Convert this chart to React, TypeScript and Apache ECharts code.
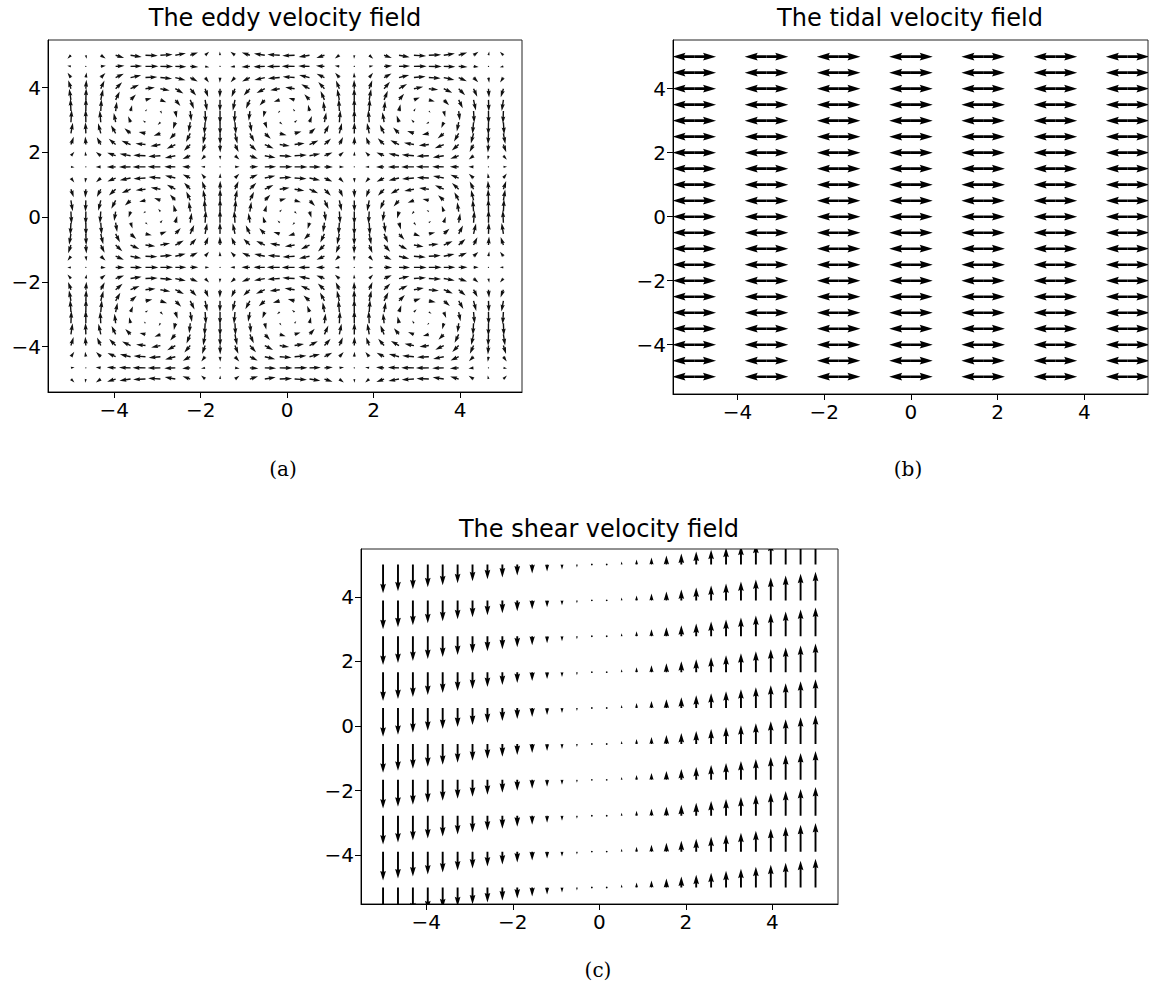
import React, { useEffect, useRef } from "react";
import * as echarts from "echarts";

// ---------- data ----------
// eddy field: 30 x 30 grid from -5 to 5
const eddyGrid = [
  -5.0, -4.655, -4.31, -3.966, -3.621, -3.276, -2.931, -2.586, -2.241, -1.897,
  -1.552, -1.207, -0.862, -0.517, -0.172, 0.172, 0.517, 0.862, 1.207, 1.552,
  1.897, 2.241, 2.586, 2.931, 3.276, 3.621, 3.966, 4.31, 4.655, 5.0,
];
// column / row amplitude factors of the eddy cells (read per grid line)
const eddyCos = [
  0.28, -0.06, -0.39, -0.68, -0.89, -0.99, -0.98, -0.85, -0.62, -0.32,
  0.02, 0.36, 0.65, 0.87, 0.99, 0.99, 0.87, 0.65, 0.36, 0.02,
  -0.32, -0.62, -0.85, -0.98, -0.99, -0.89, -0.68, -0.39, -0.06, 0.28,
];
const eddySin = [
  0.96, 1.0, 0.92, 0.73, 0.46, 0.13, -0.21, -0.53, -0.78, -0.95,
  -1.0, -0.93, -0.76, -0.49, -0.17, 0.17, 0.49, 0.76, 0.93, 1.0,
  0.95, 0.78, 0.53, 0.21, -0.13, -0.46, -0.73, -0.92, -1.0, -0.96,
];

// tidal field: 7 columns x 21 rows, arrows both ways
const tidalXs = [-5, -3.333, -1.667, 0, 1.667, 3.333, 5];
const tidalYs = [
  -5, -4.5, -4, -3.5, -3, -2.5, -2, -1.5, -1, -0.5, 0, 0.5, 1, 1.5, 2, 2.5, 3,
  3.5, 4, 4.5, 5,
];
const tidalU = [1, -1];

// shear field: 30 columns x 10 rows, vertical velocity per column
const shearXs = [
  -5.0, -4.655, -4.31, -3.966, -3.621, -3.276, -2.931, -2.586, -2.241, -1.897,
  -1.552, -1.207, -0.862, -0.517, -0.172, 0.172, 0.517, 0.862, 1.207, 1.552,
  1.897, 2.241, 2.586, 2.931, 3.276, 3.621, 3.966, 4.31, 4.655, 5.0,
];
const shearYs = [-5, -3.889, -2.778, -1.667, -0.556, 0.556, 1.667, 2.778, 3.889, 5];
const shearV = [
  -5.0, -4.655, -4.31, -3.966, -3.621, -3.276, -2.931, -2.586, -2.241, -1.897,
  -1.552, -1.207, -0.862, -0.517, -0.172, 0.172, 0.517, 0.862, 1.207, 1.552,
  1.897, 2.241, 2.586, 2.931, 3.276, 3.621, 3.966, 4.31, 4.655, 5.0,
];

const tickValues = [-4, -2, 0, 2, 4];
const titles = [
  "The eddy velocity field",
  "The tidal velocity field",
  "The shear velocity field",
];
const captions = ["(a)", "(b)", "(c)"];

// ---------- helpers ----------
function arrowPoints(px: number, py: number, dx: number, dy: number, w: number) {
  const Lpx = Math.hypot(dx, dy);
  const c = Lpx > 0 ? dx / Lpx : 1;
  const s = Lpx > 0 ? dy / Lpx : 0;
  const L = Lpx / w;
  let pts: number[][];
  if (L < 1) {
    pts = [];
    for (let k = 0; k < 6; k++) {
      const th = (k * Math.PI) / 3;
      pts.push([Math.cos(th) * 0.5, Math.sin(th) * 0.5]);
    }
  } else if (L < 5) {
    const f = L / 5;
    pts = [
      [0, 0.5], [0.5, 0.5], [0, 1.5], [5, 0], [0, -1.5], [0.5, -0.5], [0, -0.5],
    ].map(([a, b]) => [a * f, b * f]);
  } else {
    pts = [
      [0, 0.5], [L - 4.5, 0.5], [L - 5, 1.5], [L, 0], [L - 5, -1.5], [L - 4.5, -0.5], [0, -0.5],
    ];
  }
  return pts.map(([a, b]) => [px + (a * c - b * s) * w, py + (a * s + b * c) * w]);
}

const fmt = (v: number) => (v < 0 ? "\u2212" + Math.abs(v) : String(v));

function xAxisCfg(idx: number, min: number, max: number) {
  return {
    type: "value",
    gridIndex: idx,
    min,
    max,
    splitLine: { show: false },
    axisLine: { show: true, onZero: false, lineStyle: { color: "#000", width: 1 } },
    axisTick: {
      show: true,
      length: 6,
      customValues: tickValues,
      lineStyle: { color: "#000", width: 1 },
    },
    axisLabel: {
      customValues: tickValues,
      formatter: fmt,
      color: "#000",
      fontSize: 20,
      fontFamily: "DejaVu Sans",
      margin: 8,
    },
  };
}
function yAxisCfg(idx: number, min: number, max: number) {
  return {
    type: "value",
    gridIndex: idx,
    min,
    max,
    splitLine: { show: false },
    axisLine: { show: true, onZero: false, lineStyle: { color: "#000", width: 1 } },
    axisTick: {
      show: true,
      length: 6,
      customValues: tickValues,
      lineStyle: { color: "#000", width: 1 },
    },
    axisLabel: {
      customValues: tickValues,
      formatter: fmt,
      color: "#000",
      fontSize: 20,
      fontFamily: "DejaVu Sans",
      margin: 7,
    },
  };
}

export default function App() {
  const ref = useRef<HTMLDivElement>(null);
  useEffect(() => {
    if (!ref.current) return;
    const chart = echarts.init(ref.current, null, { renderer: "svg" });

    const eddyData: number[][] = [];
    eddyGrid.forEach((x, i) => {
      eddyGrid.forEach((y, j) => {
        eddyData.push([x, y, eddyCos[i] * eddySin[j], -eddySin[i] * eddyCos[j]]);
      });
    });
    const tidalData: number[][] = [];
    tidalU.forEach((u) => {
      tidalXs.forEach((x) => {
        tidalYs.forEach((y) => tidalData.push([x, y, u]));
      });
    });
    const shearData: number[][] = [];
    shearXs.forEach((x, i) => {
      shearYs.forEach((y) => shearData.push([x, y, shearV[i]]));
    });

    const gridBase = { show: true, borderColor: "#222", borderWidth: 1, backgroundColor: "#fff" };

    const textStyle = (text: string, size: number, family: string) => ({
      text,
      fontSize: size,
      fontFamily: family,
      fill: "#000",
      textAlign: "center",
      textVerticalAlign: "middle",
      align: "center",
      verticalAlign: "middle",
    });

    chart.setOption({
      animation: false,
      backgroundColor: "#fff",
      grid: [
        { ...gridBase, left: 48, top: 40, width: 474, height: 352 },
        { ...gridBase, left: 673, top: 40, width: 475, height: 354 },
        { ...gridBase, left: 361, top: 549, width: 477, height: 355 },
      ],
      xAxis: [
        xAxisCfg(0, -5.53, 5.43),
        xAxisCfg(1, -5.49, 5.47),
        xAxisCfg(2, -5.51, 5.52),
      ],
      yAxis: [
        yAxisCfg(0, -5.4, 5.47),
        yAxisCfg(1, -5.54, 5.52),
        yAxisCfg(2, -5.51, 5.48),
      ],
      graphic: [
        { type: "text", x: 285, y: 18, style: textStyle(titles[0], 24, "DejaVu Sans") },
        { type: "text", x: 910, y: 18, style: textStyle(titles[1], 24, "DejaVu Sans") },
        { type: "text", x: 599, y: 529, style: textStyle(titles[2], 24, "DejaVu Sans") },
        { type: "text", x: 283, y: 469, style: textStyle(captions[0], 20, "DejaVu Serif") },
        { type: "text", x: 908, y: 469, style: textStyle(captions[1], 20, "DejaVu Serif") },
        { type: "text", x: 598, y: 970, style: textStyle(captions[2], 20, "DejaVu Serif") },
      ],
      series: [
        {
          type: "custom",
          xAxisIndex: 0,
          yAxisIndex: 0,
          clip: true,
          encode: { x: 0, y: 1 },
          data: eddyData,
          renderItem: (params: any, api: any) => {
            const p = api.coord([api.value(0), api.value(1)]);
            const u = api.value(2);
            const v = api.value(3);
            const sc = 13;
            return {
              type: "polygon",
              shape: { points: arrowPoints(p[0], p[1], u * sc, -v * sc, 1.4) },
              style: { fill: "#111" },
            };
          },
        },
        {
          type: "custom",
          xAxisIndex: 1,
          yAxisIndex: 1,
          clip: true,
          encode: { x: 0, y: 1 },
          data: tidalData,
          renderItem: (params: any, api: any) => {
            const p = api.coord([api.value(0), api.value(1)]);
            const u = api.value(2);
            const sc = 21.8;
            return {
              type: "polygon",
              shape: { points: arrowPoints(p[0], p[1], u * sc, 0, 2.6) },
              style: { fill: "#000" },
            };
          },
        },
        {
          type: "custom",
          xAxisIndex: 2,
          yAxisIndex: 2,
          clip: true,
          encode: { x: 0, y: 1 },
          data: shearData,
          renderItem: (params: any, api: any) => {
            const p = api.coord([api.value(0), api.value(1)]);
            const v = api.value(2);
            const sc = 5.75;
            return {
              type: "polygon",
              shape: { points: arrowPoints(p[0], p[1], 0, -v * sc, 1.9) },
              style: { fill: "#000" },
            };
          },
        },
      ],
    });
    return () => chart.dispose();
  }, []);

  return (
    <div
      ref={ref}
      style={{ position: "fixed", left: 0, top: 0, width: 1150, height: 998, background: "#fff" }}
    />
  );
}
